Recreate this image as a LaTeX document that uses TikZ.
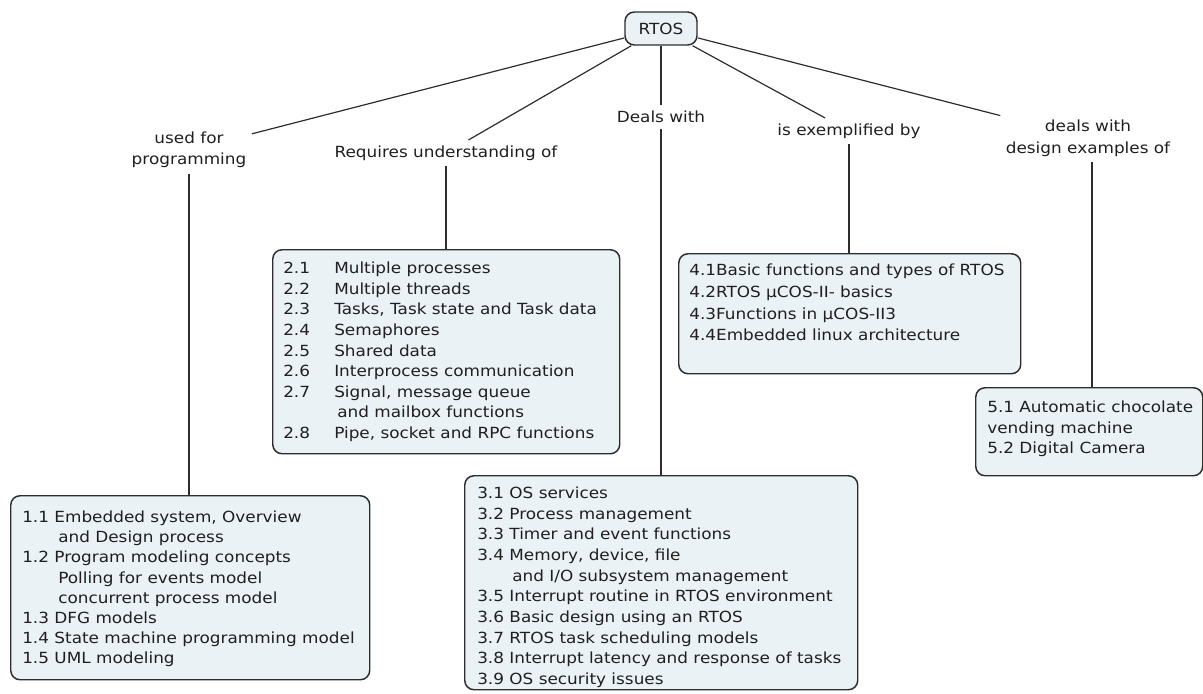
\documentclass[tikz,border=0pt]{standalone}
\usepackage{fontspec}
\setmainfont{DejaVu Sans}[FakeStretch=1.1]
\definecolor{boxfill}{RGB}{234,242,246}
\definecolor{edge}{RGB}{45,45,45}
\begin{document}
\begin{tikzpicture}[x=0.75pt,y=-0.75pt,
  every node/.style={font=\fontsize{11.5}{15.5}\selectfont, text=black!88},
  box/.style={draw=edge, fill=boxfill, line width=1.1pt, rounded corners=7pt, inner sep=0pt, anchor=north west},
  lbl/.style={align=center, inner sep=4pt},
  txt/.style={anchor=base west, inner sep=0pt},
  conn/.style={draw=edge, line width=0.9pt}]
\useasboundingbox (0,0) rectangle (1203,693);

% concept
\node[draw=edge, fill=boxfill, line width=1.1pt, rounded corners=7pt, minimum width=54pt, minimum height=24.75pt, inner sep=0pt] (rtos) at (661,28.5) {RTOS};

% linking labels
\node[lbl, font=\fontsize{11.5}{15.75}\selectfont] (l1) at (189,150) {used for\\programming};
\node[lbl] (l2) at (446,153) {Requires understanding of};
\node[lbl] (l3) at (661,117) {Deals with};
\node[lbl] (l4) at (849,131) {is exemplified by};
\node[lbl, font=\fontsize{11.5}{16.5}\selectfont] (l5) at (1088,138) {deals with\\design examples of};

% boxes
\node[box, minimum width=269.25pt, minimum height=138pt] (b1) at (10,495) {};
\node[box, minimum width=260.25pt, minimum height=153pt] (b2) at (272,249) {};
\node[box, minimum width=294.75pt, minimum height=160.5pt] (b3) at (464,475) {};
\node[box, minimum width=256.5pt, minimum height=90pt] (b4) at (678,253) {};
\node[box, minimum width=170.25pt, minimum height=66pt] (b5) at (975,387) {};

% box texts
\node[txt, font=\fontsize{11.5}{15.1}\selectfont] (t1) at (22,522.6) {\begin{tabular}[t]{@{}l@{}}
1.1 Embedded system, Overview\\
\hspace*{27pt}and Design process\\
1.2 Program modeling concepts\\
\hspace*{27pt}Polling for events model\\
\hspace*{27pt}concurrent process model\\
1.3 DFG models\\
1.4 State machine programming model\\
1.5 UML modeling
\end{tabular}};

\node[txt, font=\fontsize{11.5}{15.45}\selectfont] (t2) at (283,273.6) {\begin{tabular}[t]{@{}l@{}}
\makebox[38.25pt][l]{2.1}Multiple processes\\
\makebox[38.25pt][l]{2.2}Multiple threads\\
\makebox[38.25pt][l]{2.3}Tasks, Task state and Task data\\
\makebox[38.25pt][l]{2.4}Semaphores\\
\makebox[38.25pt][l]{2.5}Shared data\\
\makebox[38.25pt][l]{2.6}Interprocess communication\\
\makebox[38.25pt][l]{2.7}Signal, message queue\\
\hspace*{40.5pt}and mailbox functions\\
\makebox[38.25pt][l]{2.8}Pipe, socket and RPC functions
\end{tabular}};

\node[txt, font=\fontsize{11.5}{15.5}\selectfont] (t3) at (477,498.6) {\begin{tabular}[t]{@{}l@{}}
3.1 OS services\\
3.2 Process management\\
3.3 Timer and event functions\\
3.4 Memory, device, file\\
\hspace*{26.25pt}and I/O subsystem management\\
3.5 Interrupt routine in RTOS environment\\
3.6 Basic design using an RTOS\\
3.7 RTOS task scheduling models\\
3.8 Interrupt latency and response of tasks\\
3.9 OS security issues
\end{tabular}};

\node[txt, font=\fontsize{11.5}{16.3}\selectfont] (t4) at (689,275.6) {\begin{tabular}[t]{@{}l@{}}
4.1Basic functions and types of RTOS\\
4.2RTOS µCOS-II- basics\\
4.3Functions in µCOS-II3\\
4.4Embedded linux architecture
\end{tabular}};

\node[txt, font=\fontsize{11.5}{15.4}\selectfont] (t5) at (987,412.6) {\begin{tabular}[t]{@{}l@{}}
5.1 Automatic chocolate\\
vending machine\\
5.2 Digital Camera
\end{tabular}};

% connectors
\draw[conn] (rtos) -- (l1);
\draw[conn] (rtos) -- (l2);
\draw[conn] (rtos) -- (l3);
\draw[conn] (rtos) -- (l4);
\draw[conn] (rtos) -- (l5);
\draw[conn] (l1) -- (l1 |- b1.north);
\draw[conn] (l2) -- (l2 |- b2.north);
\draw[conn] (l3) -- (l3 |- b3.north);
\draw[conn] (l4) -- (l4 |- b4.north);
\draw[conn] ([xshift=3pt]l5.south) -- ([xshift=3pt]l5.south |- b5.north);
\end{tikzpicture}
\end{document}
